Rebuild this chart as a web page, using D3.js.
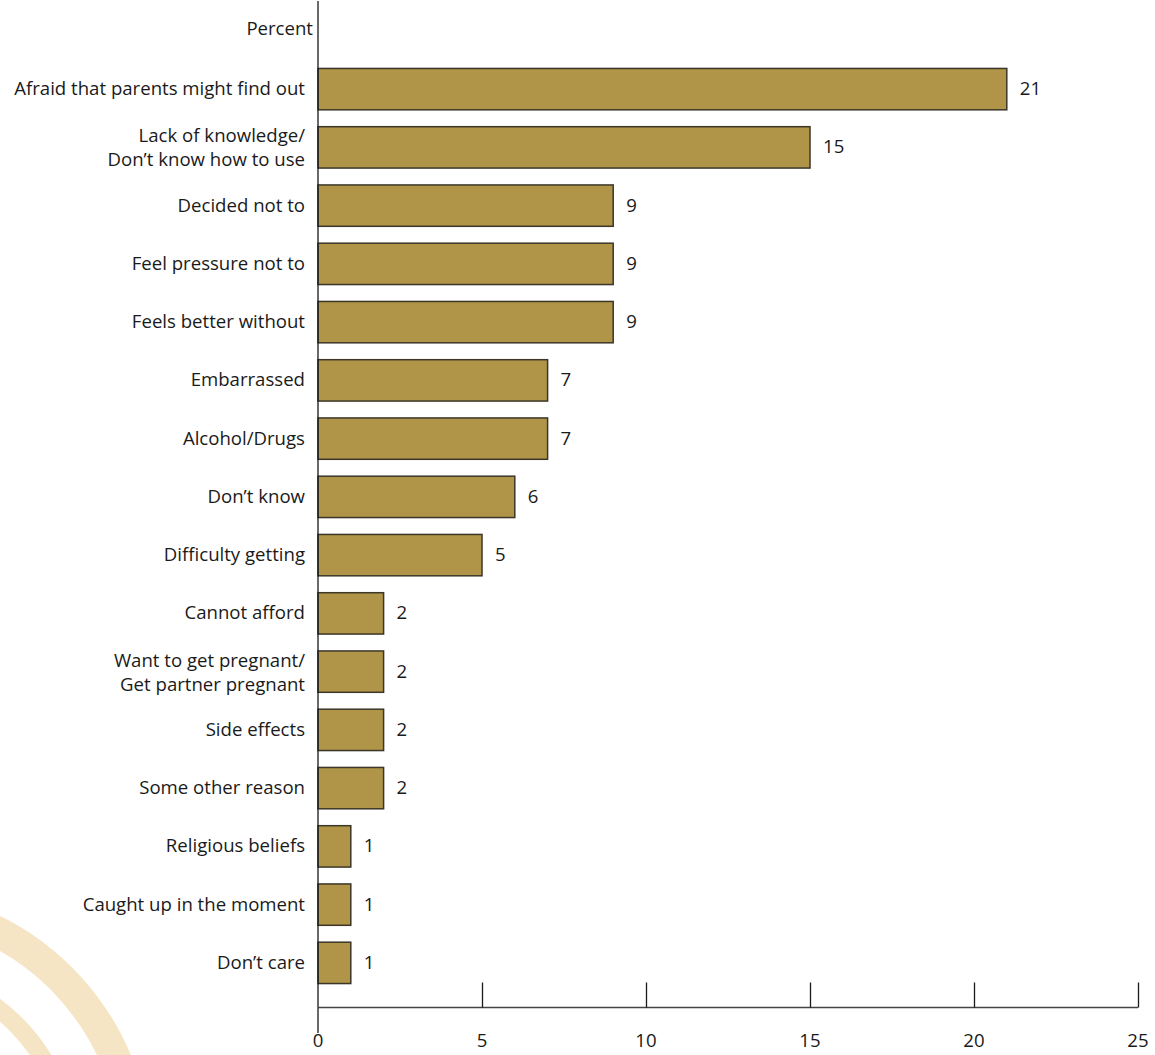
<!DOCTYPE html>
<html><head><meta charset="utf-8">
<script src="https://cdn.jsdelivr.net/npm/d3@7"></script>
<style>html,body{margin:0;padding:0;background:#fff;}svg{display:block;}</style>
</head><body>
<script>
const categories = [
  ["Afraid that parents might find out"],
  ["Lack of knowledge/", "Don\u2019t know how to use"],
  ["Decided not to"],
  ["Feel pressure not to"],
  ["Feels better without"],
  ["Embarrassed"],
  ["Alcohol/Drugs"],
  ["Don\u2019t know"],
  ["Difficulty getting"],
  ["Cannot afford"],
  ["Want to get pregnant/", "Get partner pregnant"],
  ["Side effects"],
  ["Some other reason"],
  ["Religious beliefs"],
  ["Caught up in the moment"],
  ["Don\u2019t care"]
];
const values = [21, 15, 9, 9, 9, 7, 7, 6, 5, 2, 2, 2, 2, 1, 1, 1];
const xTicks = [0, 5, 10, 15, 20, 25];
const axisTitle = "Percent";

const W = 1155, H = 1055;
const svg = d3.select("body").append("svg").attr("width", W).attr("height", H);
const font = "'Open Sans', 'Noto Sans', sans-serif";
const fs = 18.6;

// decorative arcs
const deco = svg.append("g").attr("transform", "translate(-120,1160)");
const arc = d3.arc();
deco.append("path").attr("d", arc({innerRadius: 241, outerRadius: 272, startAngle: 0, endAngle: Math.PI/2})).attr("fill", "#f5e5c4");
deco.append("path").attr("d", arc({innerRadius: 183, outerRadius: 201, startAngle: 0, endAngle: Math.PI/2})).attr("fill", "#f5e5c4");

const x = d3.scaleLinear().domain([0, 25]).range([318, 1138]);
const y = d3.scaleBand().domain(d3.range(categories.length)).range([60, 992]).paddingInner(0.29).paddingOuter(0.145);

// bars
svg.append("g").selectAll("rect").data(values).join("rect")
  .attr("x", x(0)).attr("y", (d, i) => y(i))
  .attr("width", d => x(d) - x(0)).attr("height", y.bandwidth())
  .attr("fill", "#b09447").attr("stroke", "#3b3628").attr("stroke-width", 1.5);

// value labels
svg.append("g").selectAll("text").data(values).join("text")
  .attr("x", d => x(d) + 13).attr("y", (d, i) => y(i) + y.bandwidth()/2 + 6)
  .attr("font-family", font).attr("font-size", fs).attr("fill", "#1a1a1a")
  .text(d => d);

// category labels
const lab = svg.append("g").selectAll("text").data(categories).join("text")
  .attr("text-anchor", "end").attr("font-family", font).attr("font-size", fs).attr("fill", "#1a1a1a")
  .attr("x", 305).attr("y", (d, i) => y(i) + y.bandwidth()/2 + 6);
lab.each(function(d) {
  const t = d3.select(this);
  d.forEach((line, k) => {
    t.append("tspan").attr("x", 305).attr("dy", k === 0 ? (d.length > 1 ? -11 : 0) : 24).text(line);
  });
});

// axis title
svg.append("text").attr("x", 313).attr("y", 35).attr("text-anchor", "end")
  .attr("font-family", font).attr("font-size", fs).attr("fill", "#1a1a1a").text(axisTitle);

// vertical axis line
svg.append("line").attr("x1", x(0)).attr("x2", x(0)).attr("y1", 1).attr("y2", 1033)
  .attr("stroke", "#1a1a1a").attr("stroke-width", 1.3);

// x axis
const axisY = 1007.5;
const xAxis = d3.axisTop(x).tickValues(xTicks).tickSize(25).tickFormat("");
const ax = svg.append("g").attr("transform", `translate(0,${axisY})`).call(xAxis);
ax.select(".domain").attr("stroke", "#444").attr("stroke-width", 1.3).attr("d", `M${x(0)},0H${x(25)}`);
ax.selectAll(".tick line").attr("stroke", "#1a1a1a").attr("stroke-width", 1.3);
ax.selectAll(".tick").filter(d => d === 0).select("line").remove();

svg.append("g").selectAll("text").data(xTicks).join("text")
  .attr("x", d => x(d)).attr("y", 1047).attr("text-anchor", "middle")
  .attr("font-family", font).attr("font-size", fs).attr("fill", "#1a1a1a").text(d => d);
</script>
</body></html>
